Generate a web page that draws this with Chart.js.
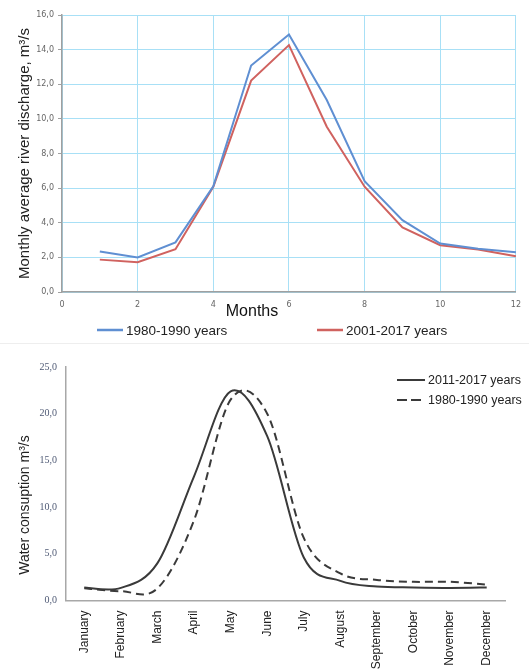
<!DOCTYPE html>
<html><head><meta charset="utf-8">
<script src="https://cdn.jsdelivr.net/npm/chart.js@4/dist/chart.umd.min.js"></script>
<style>
html,body{margin:0;padding:0;background:#fff;width:529px;height:671px;overflow:hidden;}
#top{position:absolute;left:0;top:0;width:529px;height:343px;}
#sep{position:absolute;left:0;top:343px;width:529px;height:1px;background:#eeeeee;}
#bot{position:absolute;left:0;top:344px;width:529px;height:327px;}
</style></head><body>
<div id="top"><canvas id="c1"></canvas></div>
<div id="sep"></div>
<div id="bot"><canvas id="c2"></canvas></div>
<script>
// ---- data: top chart ----
const monthNumbers = [1,2,3,4,5,6,7,8,9,10,11,12];
const discharge1980_1990 = [2.34,1.99,2.87,6.1,13.08,14.87,11.09,6.4,4.15,2.8,2.5,2.3];
const discharge2001_2017 = [1.87,1.72,2.47,6.08,12.21,14.26,9.55,6.08,3.73,2.7,2.45,2.07];
const topLabels = ['1980-1990 years','2001-2017 years'];
// ---- data: bottom chart ----
const monthNames = ['January','February','March','April','May','June','July','August','September','October','November','December'];
const consumption2011_2017 = [1.4,1.35,4.0,13.3,22.4,17.6,4.6,2.1,1.5,1.4,1.35,1.4];
const consumption1980_1990 = [1.3,1.0,1.3,8.6,21.5,20.0,6.7,2.9,2.2,2.0,2.0,1.7];
const bottomLabels = ['2011-2017 years','1980-1990 years'];

const comma = v => Number(v).toFixed(1).replace('.', ',');

// Excel-like smoothing (uniform Catmull-Rom control points on the library-placed points)
const smoothLines = {
  id: 'smoothLines',
  beforeDatasetDraw(chart, args, o) {
    if (!o || !o.enabled) return;
    const meta = args.meta, line = meta.dataset, pts = meta.data, k = 1/6;
    for (let i = 0; i < pts.length; i++) {
      const p = pts[i], prev = pts[Math.max(0, i-1)], next = pts[Math.min(pts.length-1, i+1)];
      const dx = (next.x - prev.x) * k, dy = (next.y - prev.y) * k;
      p.cp1x = p.x - dx; p.cp1y = p.y - dy; p.cp2x = p.x + dx; p.cp2y = p.y + dy;
    }
    if (line) line._pointsUpdated = true;
  }
};

const manualLegend = {
  id: 'manualLegend',
  afterDraw(chart, args, o) {
    if (!o || !o.items) return;
    const ctx = chart.ctx;
    ctx.save();
    chart.data.datasets.forEach((ds, i) => {
      const p = o.items[i];
      ctx.strokeStyle = ds.borderColor;
      ctx.lineWidth = o.lineWidth;
      ctx.setLineDash(ds.borderDash ? o.dash : []);
      ctx.beginPath(); ctx.moveTo(p.x, p.y); ctx.lineTo(p.x + o.len, p.y); ctx.stroke();
      ctx.setLineDash([]);
      ctx.fillStyle = o.color; ctx.font = o.font;
      ctx.textBaseline = 'middle'; ctx.textAlign = 'left';
      ctx.fillText(ds.label, p.x + o.len + o.gap, p.y + 1);
    });
    ctx.restore();
  }
};
const freeText = {
  id: 'freeText',
  afterDraw(chart, args, o) {
    if (!o || !o.texts) return;
    const ctx = chart.ctx;
    o.texts.forEach(t => {
      ctx.save();
      ctx.translate(t.x, t.y);
      ctx.rotate(t.rot || 0);
      ctx.font = t.font; ctx.fillStyle = t.color;
      ctx.textAlign = 'center'; ctx.textBaseline = 'middle';
      ctx.fillText(t.text, 0, 0);
      ctx.restore();
    });
  }
};

new Chart(document.getElementById('c1'), {
  type: 'line',
  data: {
    datasets: [
      { label: topLabels[0], data: monthNumbers.map((m,i)=>({x:m,y:discharge1980_1990[i]})),
        borderColor: '#5f8fd2', borderWidth: 2, pointRadius: 0, tension: 0 },
      { label: topLabels[1], data: monthNumbers.map((m,i)=>({x:m,y:discharge2001_2017[i]})),
        borderColor: '#d0625f', borderWidth: 2, pointRadius: 0, tension: 0 }
    ]
  },
  options: {
    responsive: true, maintainAspectRatio: false, animation: false,
    layout: { padding: { top: 15, right: 8, left: 0, bottom: 0 } },
    plugins: {
      legend: { display: false }, tooltip: { enabled: false },
      manualLegend: { items: [{x:97,y:330},{x:317,y:330}], len: 26, gap: 3, lineWidth: 2.5,
        font: '13.5px "Liberation Sans"', color: '#222', dash: [] },
      freeText: { texts: [{ text: 'Months', x: 252, y: 312, font: '16px "Liberation Sans"', color: '#111' }] }
    },
    scales: {
      x: { type: 'linear', min: 0, max: 12,
        ticks: { stepSize: 2, font: { family: 'DejaVu Sans', size: 8 }, color: '#666', padding: 8 },
        grid: { color: '#a8e0f6', lineWidth: 1, drawTicks: false },
        border: { color: '#a0a0a0', width: 1.5 },
        afterFit: s => { s.height = 51; } },
      y: { min: 0, max: 16,
        ticks: { stepSize: 2, font: { family: 'DejaVu Sans', size: 8 }, color: '#666', padding: 4, callback: comma },
        grid: { color: '#a8e0f6', lineWidth: 1, tickColor: '#a0a0a0', tickLength: 4 },
        border: { color: '#a0a0a0', width: 1.5 },
        title: { display: true, text: 'Monthly average river discharge, m³/s',
          font: { family: 'Liberation Sans', size: 15 }, color: '#222', padding: { top: 16, bottom: 0 } },
        afterFit: s => { s.width = 62; } }
    }
  },
  plugins: [manualLegend, freeText]
});

new Chart(document.getElementById('c2'), {
  type: 'line',
  data: {
    labels: monthNames,
    datasets: [
      { label: bottomLabels[0], data: consumption2011_2017, borderColor: '#3a3a3a', borderWidth: 2,
        pointRadius: 0, tension: 0.4 },
      { label: bottomLabels[1], data: consumption1980_1990, borderColor: '#3a3a3a', borderWidth: 2,
        borderDash: [8, 5], pointRadius: 0, tension: 0.4 }
    ]
  },
  options: {
    responsive: true, maintainAspectRatio: false, animation: false,
    layout: { padding: { top: 23, right: 24, left: 0, bottom: 0 } },
    plugins: {
      legend: { display: false }, tooltip: { enabled: false },
      smoothLines: { enabled: true },
      manualLegend: { items: [{x:397,y:36},{x:397,y:56}], len: 28, gap: 3, lineWidth: 2,
        font: '12.5px "Liberation Sans"', color: '#222', dash: [10, 4] },
      freeText: { texts: [{ text: 'Water consuption m³/s', x: 25, y: 161, rot: -Math.PI/2,
        font: '14px "Liberation Sans"', color: '#222' }] }
    },
    scales: {
      x: { type: 'category', offset: true,
        ticks: { minRotation: 90, maxRotation: 90, autoSkip: false, font: { family: 'Liberation Sans', size: 12 },
          color: '#222', padding: 10 },
        grid: { display: false, drawTicks: false },
        border: { color: '#a8a8a8', width: 1.5 },
        afterFit: s => { s.height = 70.5; } },
      y: { min: 0, max: 25,
        ticks: { stepSize: 5, font: { family: 'Liberation Serif', size: 10 }, color: '#4f5a75', padding: 9, callback: comma },
        grid: { display: false, drawTicks: false },
        border: { color: '#a8a8a8', width: 1.5 },
        afterFit: s => { s.width = 66; } }
    }
  },
  plugins: [smoothLines, manualLegend, freeText]
});
</script>
</body></html>
